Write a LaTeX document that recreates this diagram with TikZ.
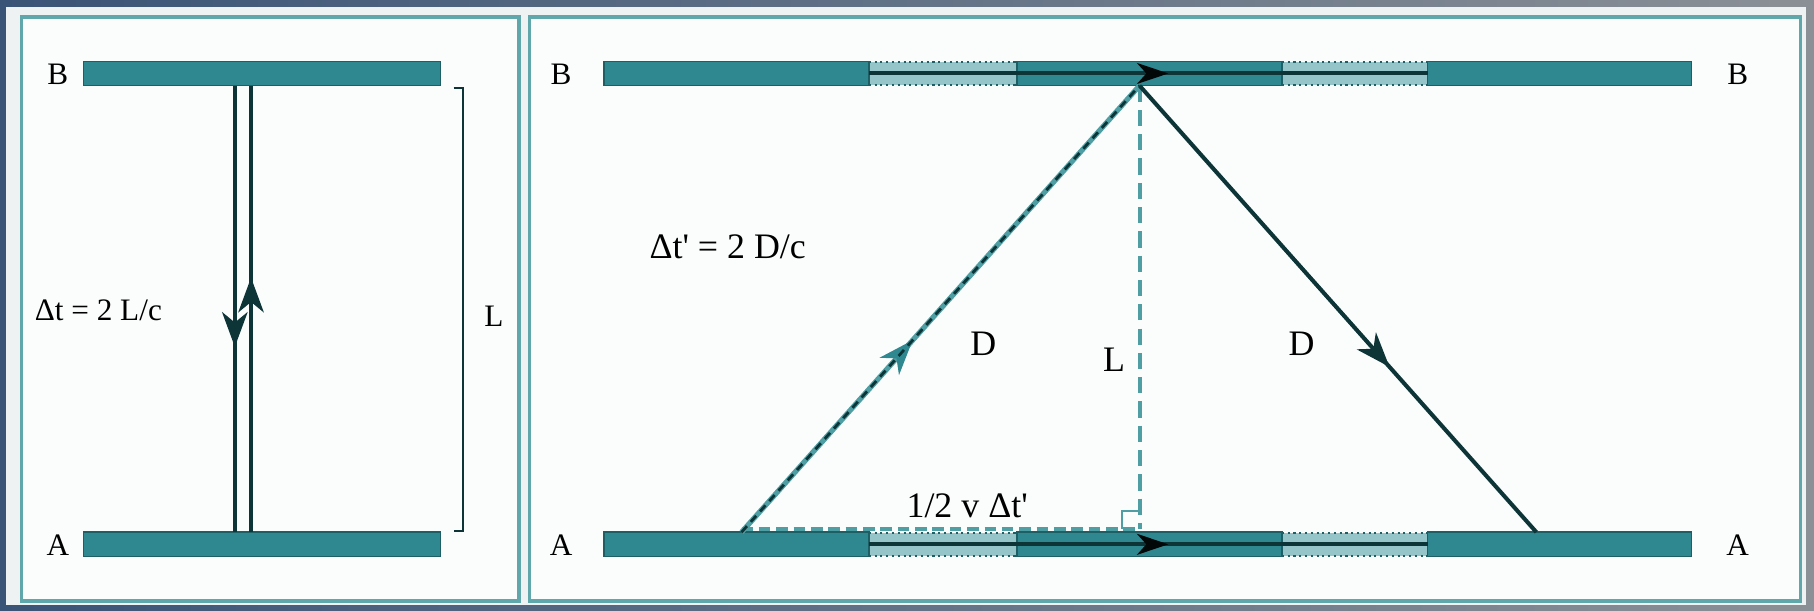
\documentclass[tikz,border=0pt]{standalone}
\usepackage{fontspec}
\setmainfont{Liberation Serif}
\usetikzlibrary{arrows.meta,decorations.markings}
\definecolor{barfill}{HTML}{2F878F}
\definecolor{barline}{HTML}{1D5F65}
\definecolor{lightfill}{HTML}{95C5C9}
\definecolor{darkray}{HTML}{0D3538}
\definecolor{tealdash}{HTML}{4E9EA3}
\definecolor{panelline}{HTML}{5FA7AB}
\definecolor{panelfill}{HTML}{FBFDFD}
\definecolor{outerfill}{HTML}{EEF2F3}
\definecolor{frameleft}{HTML}{3A5477}
\definecolor{frameright}{HTML}{8B9096}
\newcommand{\sq}{\XeTeXglyph\XeTeXcharglyph"0027\relax}
\begin{document}
\begin{tikzpicture}[x=1pt,y=-1pt,
  bar/.style={draw=barline, fill=barfill, line width=1.2pt, rectangle, minimum height=21pt, inner sep=0pt, outer sep=0pt},
  lightsec/.style={fill=lightfill, rectangle, minimum height=20pt, inner sep=0pt, outer sep=0pt},
  dotedge/.style={draw=barline, line width=1.8pt, dash pattern=on 1.8pt off 3.2pt},
  lbl/.style={font=\fontsize{27}{29}\selectfont, text=black, inner sep=0pt},
  biglbl/.style={font=\fontsize{31}{33}\selectfont, text=black, inner sep=0pt},
  ray/.style={draw=darkray, line width=3.5pt},
  panel/.style={draw=panelline, fill=panelfill, line width=3pt},
  arrowmid/.style 2 args={postaction={decorate}, decoration={markings, mark=at position #1 with {\arrow[#2]{Stealth[length=30pt,width=22pt,inset=9pt]}}}},
  arrowflat/.style={postaction={decorate}, decoration={markings, mark=at position #1 with {\arrow[black!85!darkray]{Stealth[length=27pt,width=18pt,inset=8pt]}}}}
]
\useasboundingbox (0,0) rectangle (1568,528);
% outer frame
\shade[left color=frameleft, right color=frameright] (0,0) rectangle (1568,528);
\fill[outerfill] (5,6) rectangle (1561,523);
% panels
\draw[panel] (18.5,14.5) rectangle (448.5,519.5);
\draw[panel] (457.5,14.5) rectangle (1556.5,519.5);

% ---------- left panel ----------
\node[bar, minimum width=309pt] (LB) at (226.5,63.5) {};
\node[bar, minimum width=309pt] (LA) at (226.5,470.5) {};
\node[lbl] (lblLB) at (50,64) {B};
\node[lbl] (lblLA) at (50,471) {A};
\coordinate (v1t) at (203,74);
\coordinate (v1b) at (203,460);
\coordinate (v2t) at (217,74);
\coordinate (v2b) at (217,460);
\draw[ray, arrowmid={0.585}{darkray}] (v1t) -- (v1b);
\draw[ray, arrowmid={0.57}{darkray}] (v2b) -- (v2t);
\coordinate (brt) at (392,76);
\coordinate (brb) at (392,459);
\draw[darkray, line width=1.3pt] (brt) -- ++(8,0) |- (brb);
\node[lbl] (dt) at (85,268) {Δt = 2 L/c};
\node[lbl] (lblL1) at (427,273) {L};

% ---------- right panel ----------
\node[lightsec, minimum width=128pt] (sB1) at (815,63.5) {};
\node[lightsec, minimum width=126pt] (sB2) at (1171,63.5) {};
\node[lightsec, minimum width=128pt] (sA1) at (815,470.5) {};
\node[lightsec, minimum width=126pt] (sA2) at (1171,470.5) {};
\foreach \s in {sB1,sB2,sA1,sA2}{
  \draw[dotedge] (\s.north west) -- (\s.north east);
  \draw[dotedge] (\s.south west) -- (\s.south east);
}
\node[bar, minimum width=229pt] (RB1) at (636.5,63.5) {};
\node[bar, minimum width=229pt] (RB2) at (993.5,63.5) {};
\node[bar, minimum width=228pt] (RB3) at (1348,63.5) {};
\node[bar, minimum width=229pt] (RA1) at (636.5,470.5) {};
\node[bar, minimum width=229pt] (RA2) at (993.5,470.5) {};
\node[bar, minimum width=228pt] (RA3) at (1348,470.5) {};
% motion lines
\draw[darkray, line width=3.5pt, arrowflat=0.536] (RB1.east) -- (RB3.west);
\draw[darkray, line width=3.5pt, arrowflat=0.536] (RA1.east) -- (RA3.west);
% labels
\node[lbl] (lblRB1) at (485,64) {B};
\node[lbl] (lblRB2) at (1502,64) {B};
\node[lbl] (lblRA1) at (485,471) {A};
\node[lbl] (lblRA2) at (1502,471) {A};
% triangle
\coordinate (P) at (641,460);
\coordinate (Q) at (985,74);
\coordinate (R) at (1328,460);
\coordinate (F) at (985,457);
\coordinate (P2) at (641,457);
\draw[tealdash, line width=3.5pt, dash pattern=on 10pt off 5pt] (P2) -- (F);
\draw[tealdash, line width=3.5pt, dash pattern=on 14pt off 7pt] (Q) -- (F);
\draw[tealdash, line width=1.6pt] (970,457) -- (970,442) -- (985,442);
% left edge (teal with dark dashes)
\draw[tealdash, line width=4.5pt, arrowmid={0.43}{barfill}] (P) -- (Q);
\draw[darkray, line width=2.4pt, dash pattern=on 7pt off 5pt] (P) -- (Q);
% right edge
\draw[ray, arrowmid={0.63}{darkray}] (Q) -- (R);
% texts
\node[biglbl] (dtp) at (629,213) {Δt\sq{} = 2 D/c};
\node[biglbl] (lblD1) at (850,297) {D};
\node[biglbl] (lblD2) at (1125,297) {D};
\node[biglbl] (lblL2) at (963,311) {L};
\node[biglbl] (half) at (836,437) {1/2 v Δt\sq};
\end{tikzpicture}
\end{document}
